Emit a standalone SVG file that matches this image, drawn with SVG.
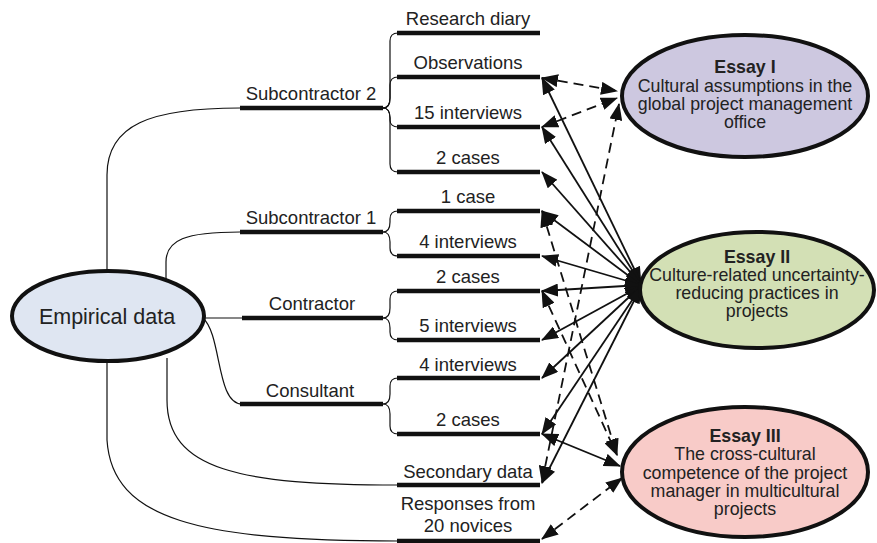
<svg xmlns="http://www.w3.org/2000/svg" width="877" height="543" viewBox="0 0 877 543">
<defs>
<style>
text{font-family:"Liberation Sans",Arial,sans-serif;fill:#222;}
.lbl{font-size:18.5px;text-anchor:middle;}
.big{font-size:21.5px;text-anchor:middle;}
.ess{font-size:17.8px;text-anchor:middle;}
.ttl{font-weight:bold;}
.bar{stroke:#111;stroke-width:4.5;fill:none;}
.thin{stroke:#111;stroke-width:1.2;fill:none;}
.node{stroke:#111;stroke-width:4;}
.sol{stroke:#111;stroke-width:1.8;fill:none;marker-start:url(#ah);marker-end:url(#ah);}
.dsh{stroke:#111;stroke-width:1.8;fill:none;stroke-dasharray:10,6;marker-start:url(#ah);marker-end:url(#ah);}
</style>
<marker id="ah" viewBox="0 0 17 13" refX="16" refY="6.5" markerWidth="17" markerHeight="13" markerUnits="userSpaceOnUse" orient="auto-start-reverse">
<path d="M0,0 L17,6.5 L0,13 z" fill="#111"/>
</marker>
</defs>
<rect width="877" height="543" fill="#fff"/>

<g id="connectors">
<path class="thin" d="M107,272 L107,175 C107,125 150,108 240,108"/>
<path class="thin" d="M166,282 L166,262 C166,240 185,232 240,232"/>
<path class="thin" d="M204,318 L242,318"/>
<path class="thin" d="M203,318 C222,335 216,404 242,404"/>
<path class="thin" d="M167,358 L167,400 C167,470 240,485 398,485"/>
<path class="thin" d="M107,361 L107,440 C112,520 200,541 398,541"/>
<path class="thin" d="M383,108 C388,108 390,104 390,98 L390,41 C390,36 393,33 398,33"/>
<path class="thin" d="M383,108 C388,108 390,104 390,98 L390,85 C390,80 393,77 398,77"/>
<path class="thin" d="M383,108 C388,108 390,112 390,118 L390,120 C390,124 393,127 398,127"/>
<path class="thin" d="M383,108 C388,108 390,112 390,118 L390,164 C390,169 393,172 398,172"/>
<path class="thin" d="M383,232 C388,232 390,228 390,222 L390,219 C390,214 393,211 398,211"/>
<path class="thin" d="M383,232 C388,232 390,236 390,242 L390,248 C390,253 393,256 398,256"/>
<path class="thin" d="M383,318 C388,318 390,314 390,308 L390,299 C390,294 393,291 398,291"/>
<path class="thin" d="M383,318 C388,318 390,322 390,328 L390,332 C390,337 393,340 398,340"/>
<path class="thin" d="M383,404 C388,404 390,400 390,394 L390,386 C390,381 393,378 398,378"/>
<path class="thin" d="M383,404 C388,404 390,408 390,414 L390,426 C390,431 393,434 398,434"/>
<path class="sol" d="M542,78 L641,283"/>
<path class="sol" d="M542,127 L641,284"/>
<path class="sol" d="M542,172 L641,284"/>
<path class="sol" d="M542,211 L641,285"/>
<path class="sol" d="M542,256 L641,285"/>
<path class="sol" d="M542,291 L641,285"/>
<path class="sol" d="M542,340 L641,286"/>
<path class="sol" d="M542,378 L641,286"/>
<path class="sol" d="M542,434 L641,287"/>
<path class="sol" d="M542,483 L641,287"/>
<path class="dsh" d="M542,78 L617,91"/>
<path class="dsh" d="M542,127 L617,98"/>
<path class="dsh" d="M542,482 L619,104"/>
<path class="dsh" d="M542,211 L617,455"/>
<path class="dsh" d="M542,291 L617,455"/>
<path class="sol" d="M542,434 L620,466"/>
<path class="dsh" d="M542,539 L622,478"/>
</g>

<g id="empirical-data">
<ellipse class="node" cx="108" cy="316" rx="96" ry="45" fill="#dfe6f2"/>
<text class="big" x="107" y="324">Empirical data</text>
</g>

<g id="subcontractor-2">
<line class="bar" x1="240" y1="108" x2="383" y2="108"/>
<text class="lbl" x="311" y="100">Subcontractor 2</text>
</g>
<g id="subcontractor-1">
<line class="bar" x1="240" y1="232" x2="383" y2="232"/>
<text class="lbl" x="311" y="224">Subcontractor 1</text>
</g>
<g id="contractor">
<line class="bar" x1="242" y1="318" x2="383" y2="318"/>
<text class="lbl" x="312" y="310">Contractor</text>
</g>
<g id="consultant">
<line class="bar" x1="240" y1="404" x2="383" y2="404"/>
<text class="lbl" x="310" y="397">Consultant</text>
</g>

<g id="research-diary">
<line class="bar" x1="397" y1="33" x2="540" y2="33"/>
<text class="lbl" x="468" y="25">Research diary</text>
</g>
<g id="observations">
<line class="bar" x1="397" y1="77" x2="540" y2="77"/>
<text class="lbl" x="468" y="69">Observations</text>
</g>
<g id="sc2-interviews">
<line class="bar" x1="397" y1="127" x2="540" y2="127"/>
<text class="lbl" x="468" y="119">15 interviews</text>
</g>
<g id="sc2-cases">
<line class="bar" x1="397" y1="172" x2="540" y2="172"/>
<text class="lbl" x="468" y="164">2 cases</text>
</g>
<g id="sc1-case">
<line class="bar" x1="397" y1="211" x2="540" y2="211"/>
<text class="lbl" x="468" y="203">1 case</text>
</g>
<g id="sc1-interviews">
<line class="bar" x1="397" y1="256" x2="540" y2="256"/>
<text class="lbl" x="468" y="248">4 interviews</text>
</g>
<g id="con-cases">
<line class="bar" x1="397" y1="291" x2="540" y2="291"/>
<text class="lbl" x="468" y="283">2 cases</text>
</g>
<g id="con-interviews">
<line class="bar" x1="397" y1="340" x2="540" y2="340"/>
<text class="lbl" x="468" y="332">5 interviews</text>
</g>
<g id="cons-interviews">
<line class="bar" x1="397" y1="378" x2="540" y2="378"/>
<text class="lbl" x="468" y="371">4 interviews</text>
</g>
<g id="cons-cases">
<line class="bar" x1="397" y1="434" x2="540" y2="434"/>
<text class="lbl" x="468" y="426">2 cases</text>
</g>
<g id="secondary-data">
<line class="bar" x1="397" y1="485" x2="540" y2="485"/>
<text class="lbl" x="468" y="478">Secondary data</text>
</g>
<g id="responses">
<line class="bar" x1="397" y1="541" x2="540" y2="541"/>
<text class="lbl" x="468" y="510">Responses from</text>
<text class="lbl" x="468" y="532">20 novices</text>
</g>

<g id="essay-1">
<ellipse class="node" cx="745" cy="96" rx="123" ry="61" fill="#cdc8e0"/>
<text class="ess ttl" x="745" y="73">Essay I</text>
<text class="ess" x="745" y="92">Cultural assumptions in the</text>
<text class="ess" x="745" y="110">global project management</text>
<text class="ess" x="745" y="128">office</text>
</g>
<g id="essay-2">
<ellipse class="node" cx="757" cy="290" rx="117" ry="58" fill="#d3e0b5"/>
<text class="ess ttl" x="757" y="263">Essay II</text>
<text class="ess" x="757" y="281">Culture-related uncertainty-</text>
<text class="ess" x="757" y="299">reducing practices in</text>
<text class="ess" x="757" y="317">projects</text>
</g>
<g id="essay-3">
<ellipse class="node" cx="745" cy="472" rx="123" ry="65" fill="#f8cbc8"/>
<text class="ess ttl" x="745" y="442">Essay III</text>
<text class="ess" x="745" y="460">The cross-cultural</text>
<text class="ess" x="745" y="479">competence of the project</text>
<text class="ess" x="745" y="497">manager in multicultural</text>
<text class="ess" x="745" y="515">projects</text>
</g>
</svg>
